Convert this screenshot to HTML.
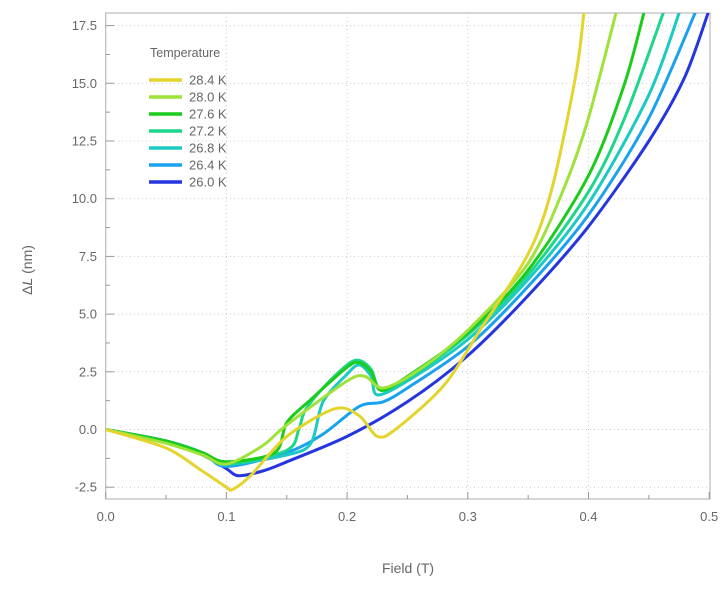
<!DOCTYPE html><html><head><style>body{margin:0;background:#fff}svg{font-family:"Liberation Sans",sans-serif}</style></head><body>
<svg id="s" width="728" height="584" xmlns="http://www.w3.org/2000/svg">
<defs><clipPath id="c"><rect x="106" y="13" width="604" height="486"/></clipPath></defs>
<g id="grid" stroke="#ccc" stroke-dasharray="1,3" stroke-width="1"></g>
<rect x="105.7" y="13" width="604.3" height="486" fill="none" stroke="#bbb" stroke-width="1.2"/>
<g id="ticks" stroke="#999" stroke-width="1"></g>
<g id="labels" fill="#666" font-size="13"></g>
<g id="curves" clip-path="url(#c)" fill="none" stroke-width="3" stroke-linejoin="round"></g>
<text x="150" y="57" font-size="12.5" fill="#666">Temperature</text>
<g id="leg" font-size="13" fill="#666"></g>
<text transform="translate(32,270) rotate(-90)" text-anchor="middle" font-size="14" fill="#666">Δ<tspan font-style="italic">L</tspan> (nm)</text>
<text x="408" y="573" text-anchor="middle" font-size="14" fill="#666">Field (T)</text>
</svg>
<script>
const X=f=>105.7+1207*f, Y=v=>429.5-23.08*v, ns="http://www.w3.org/2000/svg";
function el(p,t,a,txt){const e=document.createElementNS(ns,t);for(const k in a)e.setAttribute(k,a[k]);if(txt!=null)e.textContent=txt;document.getElementById(p).appendChild(e);}
for(let i=0;i<=5;i++){const x=X(i/10);if(i>0&&i<5)el("grid","line",{x1:x,x2:x,y1:13,y2:499});el("ticks","line",{x1:x,x2:x,y1:499,y2:492});el("labels","text",{x:x,y:521,"text-anchor":"middle"},(i/10).toFixed(1));if(i<5)el("ticks","line",{x1:X(i/10+.05),x2:X(i/10+.05),y1:499,y2:495});}
for(let i=-1;i<=7;i++){const v=i*2.5,y=Y(v);el("grid","line",{x1:106,x2:710,y1:y,y2:y});el("ticks","line",{x1:105.7,x2:114,y1:y,y2:y});el("labels","text",{x:97,y:y+4.5,"text-anchor":"end"},v.toFixed(1));if(i<7)el("ticks","line",{x1:105.7,x2:110,y1:Y(v+1.25),y2:Y(v+1.25)});}
const C=[
["28.4 K","#e3d42e",[[0,0],[.05,-.8],[.08,-1.8],[.1,-2.5],[.105,-2.6],[.12,-2],[.15,-.3],[.19,.9],[.21,.6],[.225,-.3],[.24,0],[.28,1.9],[.31,4.3],[.35,7.6],[.37,10.5],[.39,15.5],[.397,18.5]]],
["28.0 K","#9ee23a",[[0,0],[.05,-.6],[.08,-1.1],[.1,-1.5],[.13,-.7],[.15,.2],[.2,2.1],[.215,2.3],[.23,1.8],[.26,2.6],[.3,4.3],[.35,7.2],[.38,10.5],[.4,13.5],[.425,18.5]]],
["27.6 K","#1ccc1c",[[0,0],[.05,-.5],[.08,-1],[.1,-1.4],[.14,-1],[.15,.3],[.17,1.3],[.2,2.7],[.21,2.9],[.22,2.5],[.228,1.7],[.25,2.3],[.3,4.2],[.35,6.9],[.4,11],[.43,15],[.448,18.5]]],
["27.2 K","#1ed68a",[[0,0],[.05,-.5],[.08,-1],[.1,-1.5],[.15,-.9],[.16,0],[.165,.8],[.18,1.8],[.2,2.8],[.21,3],[.22,2.6],[.228,1.7],[.25,2.2],[.3,4.1],[.35,6.7],[.4,10.3],[.43,13.5],[.465,18.5]]],
["26.8 K","#1cc9c4",[[0,0],[.05,-.5],[.08,-1],[.1,-1.5],[.15,-1.1],[.17,-.6],[.18,1.2],[.2,2.4],[.21,2.8],[.22,2.3],[.225,1.5],[.25,2.1],[.3,3.9],[.35,6.5],[.4,9.8],[.45,14.5],[.478,18.5]]],
["26.4 K","#1aa2ee",[[0,0],[.05,-.5],[.08,-1],[.1,-1.6],[.15,-1],[.18,-.2],[.21,1],[.23,1.2],[.25,1.8],[.3,3.6],[.35,6.2],[.4,9.3],[.45,13.5],[.492,18.5]]],
["26.0 K","#2535e0",[[0,0],[.05,-.5],[.08,-1.1],[.1,-1.7],[.11,-2],[.13,-1.8],[.15,-1.4],[.2,-.3],[.25,1.2],[.3,3.2],[.35,5.8],[.4,8.8],[.45,12.5],[.48,15.3],[.502,18.5]]]];
function smooth(p){const P=p.map(q=>[X(q[0]),Y(q[1])]);let d="M"+P[0].join(",");for(let i=0;i<P.length-1;i++){const a=P[Math.max(i-1,0)],b=P[i],c=P[i+1],e=P[Math.min(i+2,P.length-1)];const t=0.15;d+="C"+(b[0]+(c[0]-a[0])*t).toFixed(1)+","+(b[1]+(c[1]-a[1])*t).toFixed(1)+" "+(c[0]-(e[0]-b[0])*t).toFixed(1)+","+(c[1]-(e[1]-b[1])*t).toFixed(1)+" "+c[0].toFixed(1)+","+c[1].toFixed(1);}return d;}
C.slice().reverse().forEach(([n,col,p])=>{el("curves","path",{d:smooth(p),stroke:col});});
C.forEach(([n,col],i)=>{const y=80+i*17;el("leg","line",{x1:149,x2:182,y1:y,y2:y,stroke:col,"stroke-width":3.5});el("leg","text",{x:189,y:y+4.5},n);});
</script></body></html>
